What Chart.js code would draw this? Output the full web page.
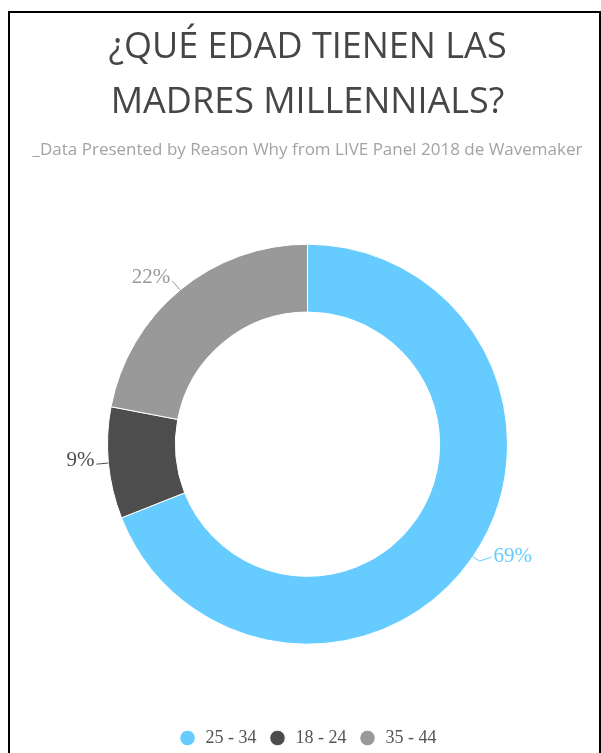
<!DOCTYPE html>
<html>
<head>
<meta charset="utf-8">
<script src="https://cdn.jsdelivr.net/npm/chart.js@4.4.1/dist/chart.umd.min.js"></script>
<style>
  html, body { margin: 0; padding: 0; background: #fff; overflow: hidden; width: 601px; height: 753px; }
  .frame { position: absolute; left: 8px; top: 11px; width: 589px; height: 800px; border: 2px solid #000; }
  #chart { position: absolute; left: 14px; top: 14px; }
</style>
</head>
<body>
<div class="frame"></div>
<canvas id="chart" width="587" height="760"></canvas>
<script>
// Data
var categories = ['25 - 34', '18 - 24', '35 - 44'];
var shares = [69, 9, 22];
var sliceColors = ['#66ccff', '#4d4d4d', '#999999'];
var titleLines = ['¿QUÉ EDAD TIENEN LAS', 'MADRES MILLENNIALS?'];
var subtitleText = '_Data Presented by Reason Why from LIVE Panel 2018 de Wavemaker';

// Outside percentage labels with a short leader line
var outsideLabels = {
  id: 'outsideLabels',
  afterDatasetsDraw: function(chart) {
    var ctx = chart.ctx;
    var meta = chart.getDatasetMeta(0);
    var data = chart.data.datasets[0].data;
    ctx.save();
    ctx.font = '21px "Liberation Serif", serif';
    ctx.lineWidth = 1;
    meta.data.forEach(function(arc, i) {
      var p = arc.getProps(['x', 'y', 'startAngle', 'endAngle', 'outerRadius'], true);
      var mid = (p.startAngle + p.endAngle) / 2;
      var cos = Math.cos(mid), sin = Math.sin(mid);
      var right = cos >= 0;
      var x0 = p.x + cos * p.outerRadius, y0 = p.y + sin * p.outerRadius;
      var x1 = p.x + cos * (p.outerRadius + 8), y1 = p.y + sin * (p.outerRadius + 8);
      // right-hand labels get a small tail before the text
      var x2 = right ? x1 + 12 : p.x + cos * (p.outerRadius + 12);
      var y2 = right ? y1 - 4 : p.y + sin * (p.outerRadius + 12);
      var color = sliceColors[i];
      ctx.strokeStyle = color;
      ctx.beginPath();
      ctx.moveTo(x0, y0);
      ctx.lineTo(x1, y1);
      ctx.lineTo(x2, y2);
      ctx.stroke();
      ctx.fillStyle = color;
      ctx.textBaseline = 'alphabetic';
      ctx.textAlign = right ? 'left' : 'right';
      ctx.fillText(data[i] + '%', x2 + (right ? 2 : -2), y2 + (right ? 5 : 2));
    });
    ctx.restore();
  }
};

new Chart(document.getElementById('chart'), {
  type: 'doughnut',
  data: {
    labels: categories,
    datasets: [{
      data: shares,
      backgroundColor: sliceColors,
      borderColor: '#ffffff',
      borderWidth: 1
    }]
  },
  options: {
    responsive: false,
    devicePixelRatio: 1,
    animation: false,
    events: [],
    radius: 200,
    cutout: 133,
    layout: { padding: { top: 0, bottom: 17, left: 0, right: 0 } },
    plugins: {
      title: {
        display: true,
        text: titleLines,
        color: '#464646',
        font: { family: '"Open Sans", sans-serif', size: 36, weight: 'normal', lineHeight: 55 / 36 },
        padding: { top: 6, bottom: 0 }
      },
      subtitle: {
        display: true,
        text: subtitleText,
        color: '#a3a3a3',
        font: { family: '"Open Sans", sans-serif', size: 17, weight: 'normal', lineHeight: 1.2 },
        padding: { top: 10, bottom: 82 }
      },
      legend: {
        position: 'bottom',
        title: { display: true, text: '', font: { size: 12, lineHeight: 1.2 }, padding: { top: 0, bottom: 56.6 } },
        labels: {
          usePointStyle: true,
          pointStyle: 'circle',
          boxWidth: 18,
          boxHeight: 11,
          padding: 12,
          color: '#555555',
          font: { family: '"Liberation Serif", serif', size: 18 }
        }
      },
      tooltip: { enabled: false }
    }
  },
  plugins: [outsideLabels]
});
</script>
</body>
</html>
